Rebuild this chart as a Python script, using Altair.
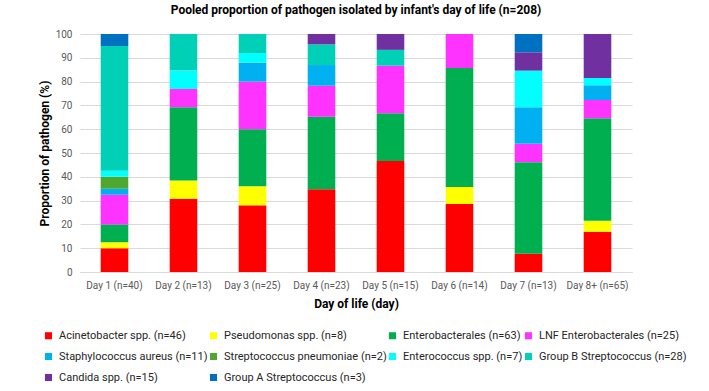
import altair as alt
import pandas as pd

days = ["Day 1 (n=40)", "Day 2 (n=13)", "Day 3 (n=25)", "Day 4 (n=23)",
        "Day 5 (n=15)", "Day 6 (n=14)", "Day 7 (n=13)", "Day 8+ (n=65)"]

species = ["Acinetobacter spp. (n=46)", "Pseudomonas spp. (n=8)",
           "Enterobacterales (n=63)", "LNF Enterobacterales (n=25)",
           "Staphylococcus aureus (n=11)", "Streptococcus pneumoniae (n=2)",
           "Enterococcus spp. (n=7)", "Group B Streptococcus (n=28)",
           "Candida spp. (n=15)", "Group A Streptococcus (n=3)"]

colors = ["#FF0000", "#FFFF00", "#00B050", "#FF33FF", "#00B0F0",
          "#4EA72E", "#00FFFF", "#00D0B5", "#7030A0", "#0070C0"]

# isolate counts per species, one value per day
acinetobacter = [4, 4, 7, 8, 7, 4, 1, 11]
pseudomonas = [1, 1, 2, 0, 0, 1, 0, 3]
enterobacterales = [3, 4, 6, 7, 3, 7, 5, 28]
lnf_enterobacterales = [5, 1, 5, 3, 3, 2, 1, 5]
staph_aureus = [1, 0, 2, 2, 0, 0, 2, 4]
strep_pneumoniae = [2, 0, 0, 0, 0, 0, 0, 0]
enterococcus = [1, 1, 1, 0, 0, 0, 2, 2]
group_b_strep = [21, 2, 2, 2, 1, 0, 0, 0]
candida = [0, 0, 0, 1, 1, 0, 1, 12]
group_a_strep = [2, 0, 0, 0, 0, 0, 1, 0]

series = [acinetobacter, pseudomonas, enterobacterales, lnf_enterobacterales,
          staph_aureus, strep_pneumoniae, enterococcus, group_b_strep,
          candida, group_a_strep]

rows = []
for si, (name, vals) in enumerate(zip(species, series)):
    for d, v in zip(days, vals):
        rows.append({"day": d, "species": name, "order": si, "count": v})
df = pd.DataFrame(rows)

FONT = "Roboto"

chart = (
    alt.Chart(df)
    .transform_joinaggregate(total="sum(count)", groupby=["day"])
    .transform_calculate(pct="datum.count / datum.total * 100")
    .mark_bar()
    .encode(
        x=alt.X("day:N", sort=days,
                scale=alt.Scale(paddingInner=0.6, paddingOuter=0.3),
                axis=alt.Axis(title="Day of life (day)", labelAngle=0,
                              labelFontSize=10, labelColor="#595959",
                              labelPadding=8, ticks=False,
                              domainColor="#D9D9D9",
                              titleFontSize=12, titleFontWeight="bold",
                              titleColor="#000000", titlePadding=8)),
        y=alt.Y("pct:Q", stack="zero",
                scale=alt.Scale(domain=[0, 100], nice=False),
                axis=alt.Axis(title="Proportion of pathogen (%)",
                              values=list(range(0, 101, 10)),
                              labelFontSize=10, labelColor="#595959",
                              labelPadding=8, ticks=False, domain=False,
                              gridColor="#D9D9D9",
                              titleFontSize=12, titleFontWeight="bold",
                              titleColor="#000000", titlePadding=4)),
        color=alt.Color("species:N", sort=species,
                        scale=alt.Scale(domain=species, range=colors),
                        legend=alt.Legend(title=None, orient="none",
                                          direction="horizontal",
                                          legendX=-37, legendY=296,
                                          columns=4, gridAlign="each",
                                          symbolType="square",
                                          symbolSize=50, symbolStrokeWidth=0,
                                          labelFontSize=11, labelColor="#262626",
                                          labelOffset=5,
                                          columnPadding=0, rowPadding=9,
                                          labelLimit=300)),
        order=alt.Order("order:Q", sort="ascending"),
        tooltip=["day:N", "species:N", "count:Q"],
    )
    .properties(
        width=552, height=238,
        title=alt.TitleParams("Pooled proportion of pathogen isolated by infant's day of life (n=208)",
                              fontSize=12, fontWeight="bold", offset=12,
                              color="#000000"),
        padding={"left": 80, "top": 34, "right": 77, "bottom": 119},
        autosize=alt.AutoSizeParams(type="none"),
    )
    .configure(font=FONT, background="white")
    .configure_view(stroke=None)
)

chart.save("out.html", embed_options={"renderer": "svg", "actions": False})
